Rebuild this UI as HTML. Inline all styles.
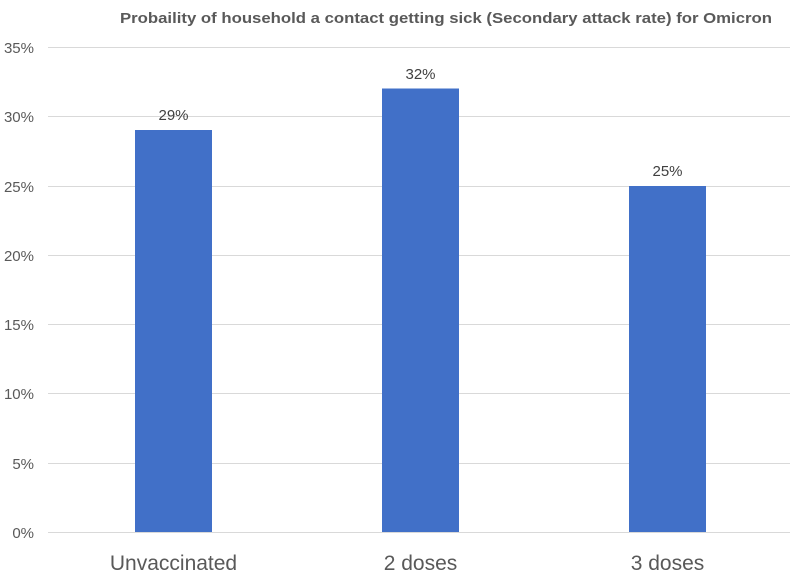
<!DOCTYPE html>
<html><head><meta charset="utf-8"><style>
body{margin:0;background:#fff;}
svg text{font-family:"Liberation Sans",sans-serif;}
</style></head><body>
<svg width="800" height="582" viewBox="0 0 800 582" xmlns="http://www.w3.org/2000/svg">
<rect width="800" height="582" fill="#fff"/>
<text x="120" y="23" font-size="15" font-weight="bold" fill="#595959" textLength="652" lengthAdjust="spacingAndGlyphs">Probaility of household a contact getting sick (Secondary attack rate) for Omicron</text>
<g stroke="#d9d9d9" stroke-width="1">
<line x1="48" x2="790" y1="47.5" y2="47.5"/>
<line x1="48" x2="790" y1="116.5" y2="116.5"/>
<line x1="48" x2="790" y1="186.5" y2="186.5"/>
<line x1="48" x2="790" y1="255.5" y2="255.5"/>
<line x1="48" x2="790" y1="324.5" y2="324.5"/>
<line x1="48" x2="790" y1="393.5" y2="393.5"/>
<line x1="48" x2="790" y1="463.5" y2="463.5"/>
<line x1="48" x2="790" y1="532.5" y2="532.5"/>
</g>
<g font-size="15" fill="#595959" text-anchor="end">
<text x="34" y="53">35%</text>
<text x="34" y="122">30%</text>
<text x="34" y="192">25%</text>
<text x="34" y="261">20%</text>
<text x="34" y="330">15%</text>
<text x="34" y="399">10%</text>
<text x="34" y="469">5%</text>
<text x="34" y="538">0%</text>
</g>
<g fill="#4170c8">
<rect x="135" y="130" width="77" height="402"/>
<rect x="382" y="88.5" width="77" height="443.5"/>
<rect x="629" y="186" width="77" height="346"/>
</g>
<g font-size="15" fill="#404040" text-anchor="middle">
<text x="173.5" y="120">29%</text>
<text x="420.5" y="79">32%</text>
<text x="667.5" y="176">25%</text>
</g>
<g font-size="21" fill="#595959" text-anchor="middle">
<text x="173.5" y="570">Unvaccinated</text>
<text x="420.5" y="570">2 doses</text>
<text x="667.5" y="570">3 doses</text>
</g>
</svg>
</body></html>
